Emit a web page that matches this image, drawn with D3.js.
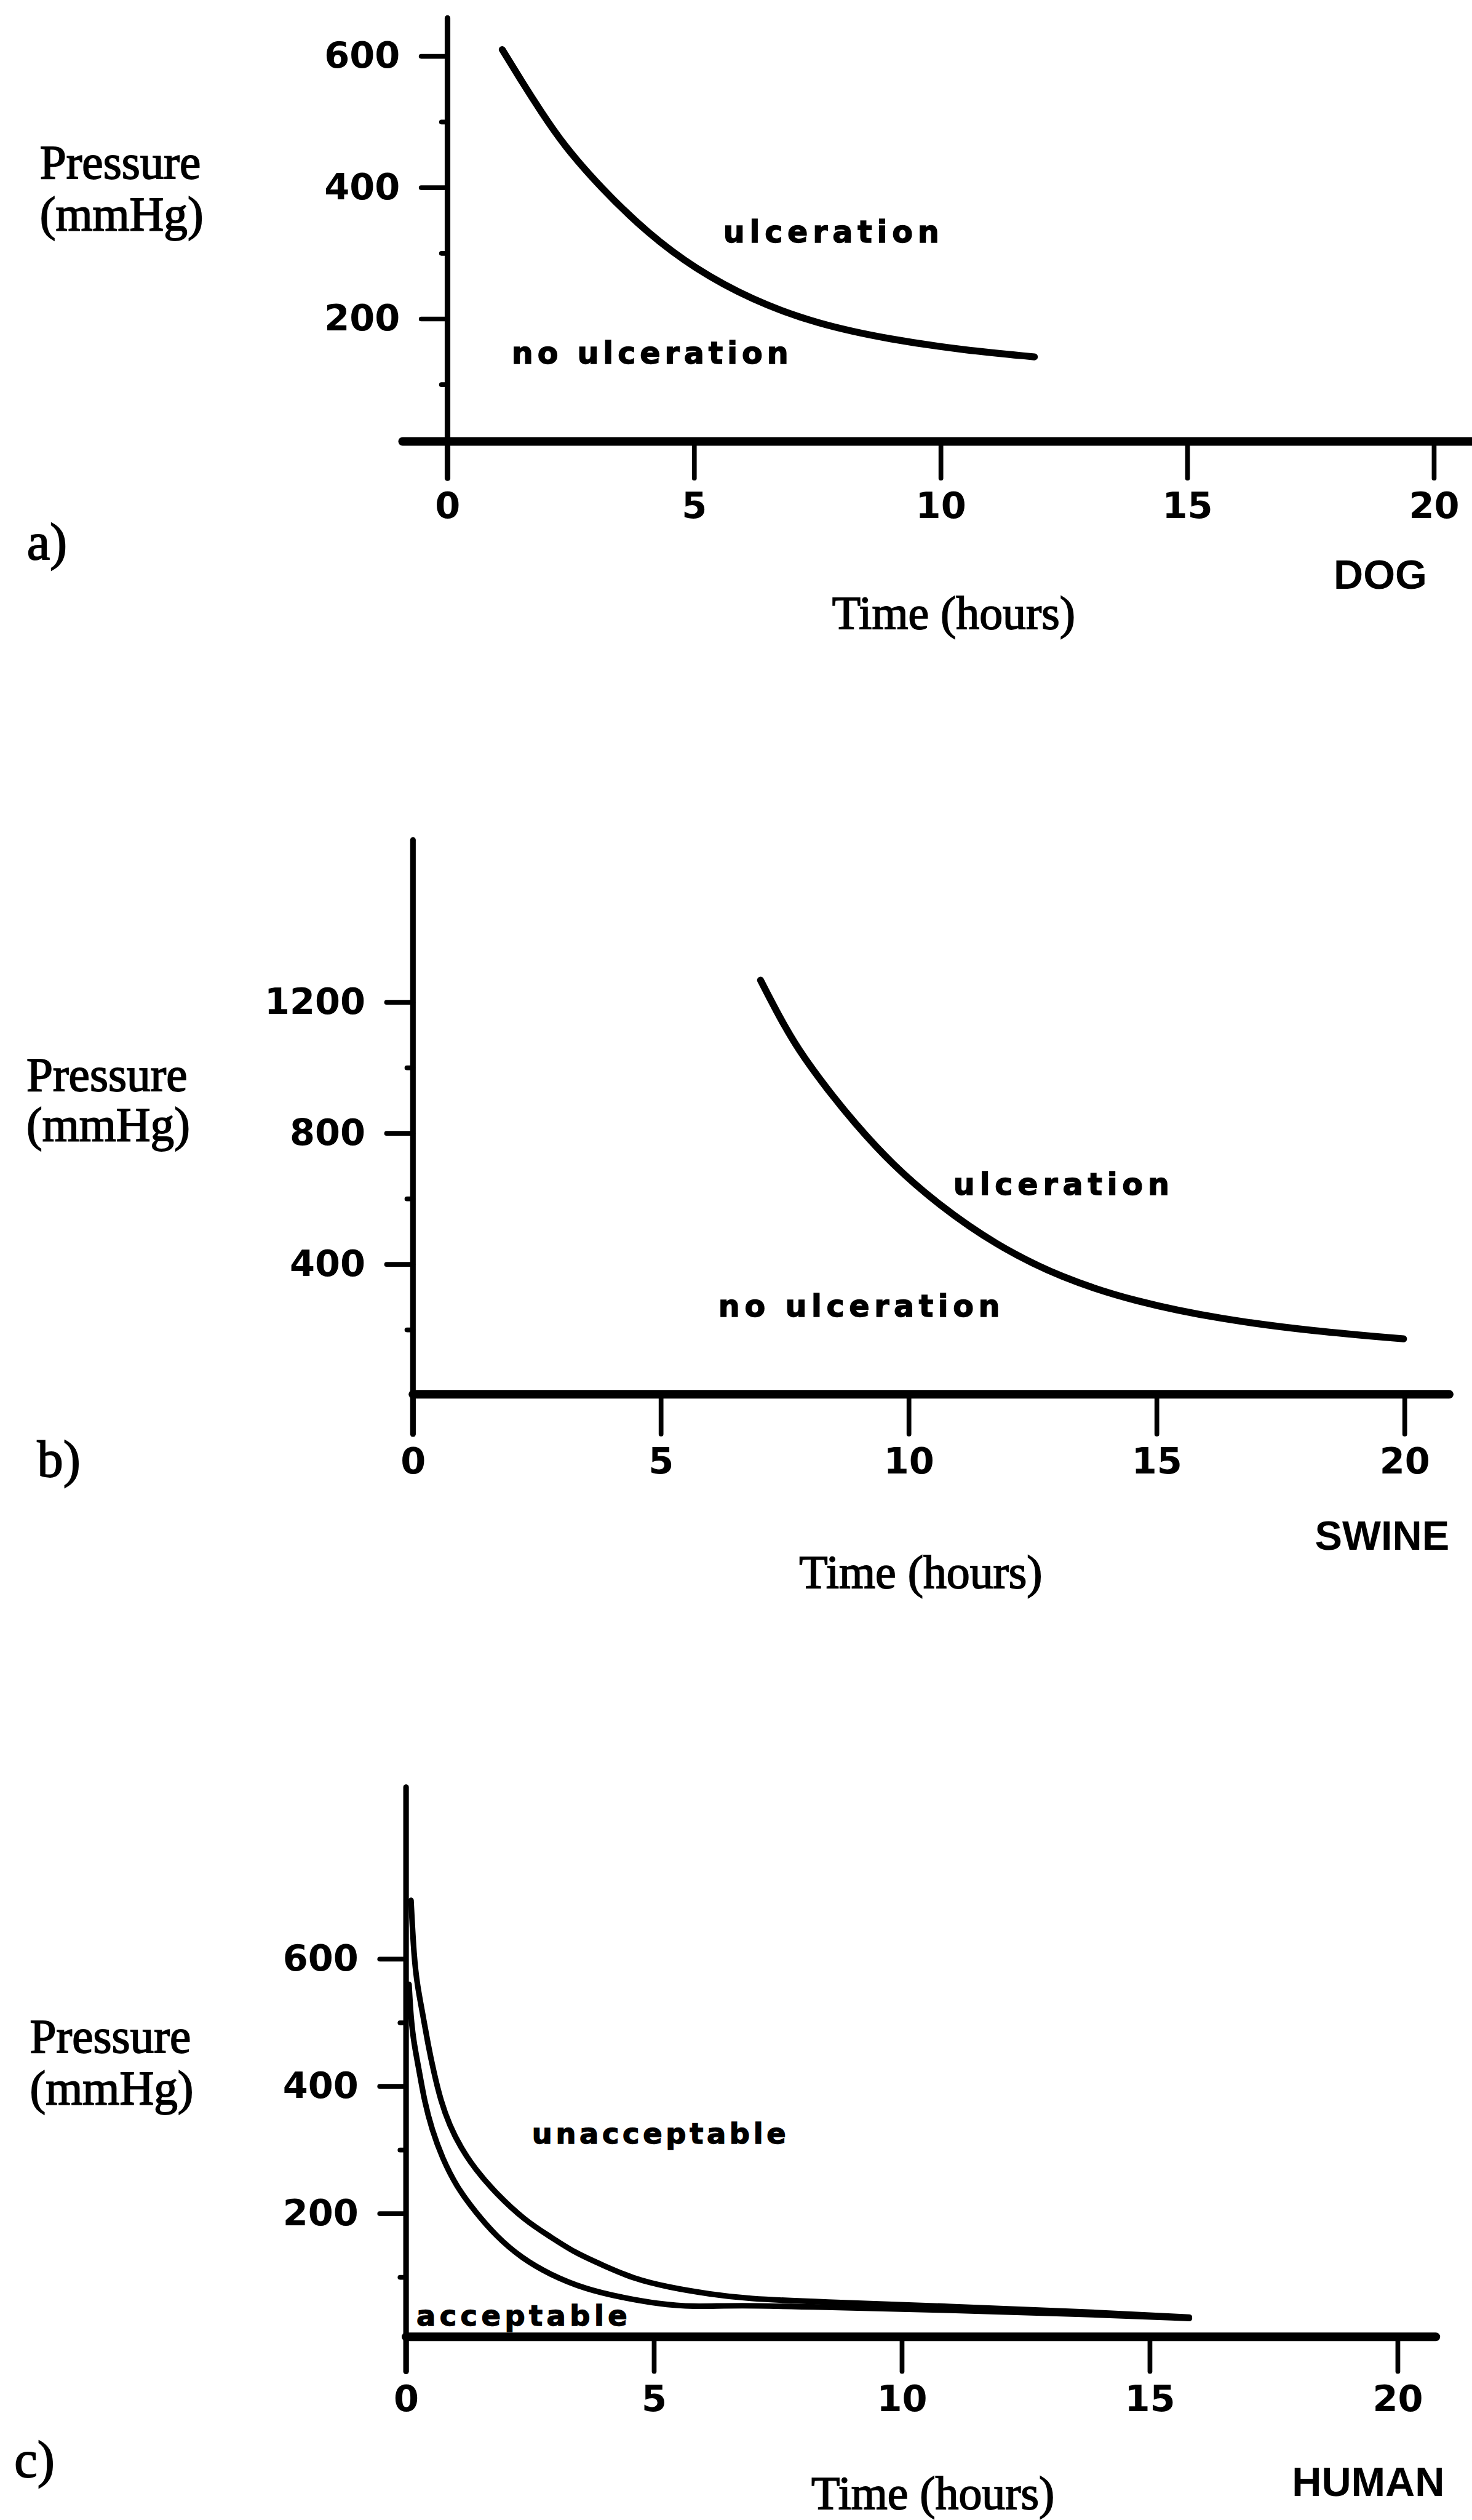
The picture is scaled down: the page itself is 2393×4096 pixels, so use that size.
<!DOCTYPE html>
<html>
<head>
<meta charset="utf-8">
<script src="https://cdn.jsdelivr.net/npm/d3@7"></script>
<style>
    body { margin: 0; background: #fff; }
    .serif { font-family: "Liberation Serif", "Times New Roman", serif; fill: #000; stroke: #000; stroke-width: 2.5; }
    .tick text { font-family: "DejaVu Sans", sans-serif; font-weight: bold; font-size: 84px; fill: #000; }
    .tick line { stroke: #000; stroke-width: 11; stroke-linecap: round; }
    .species { font-family: "Liberation Sans", Arial, sans-serif; font-weight: bold; font-size: 95px; fill: #000; }
    .region { font-family: "DejaVu Sans", sans-serif; font-weight: bold; fill: #000; stroke: #000; stroke-width: 2; }
</style>
</head>
<body>
<div id="chart"></div>
<script>

// ---- data (time in hours, pressure in mmHg) ----
const timeTicks = [0, 5, 10, 15, 20];

const dogTicks = [200, 400, 600];
const dogMinor = [100, 300, 500];
const swineTicks = [400, 800, 1200];
const swineMinor = [200, 600, 1000];
const humanTicks = [200, 400, 600];
const humanMinor = [100, 300, 500];

const dogCurve = [
    [1.11, 610], [1.5, 562], [1.9, 515], [2.35, 465], [3.1, 400], [4.06, 330],
    [5.02, 276], [6.16, 229], [7.49, 192], [9.0, 168], [10.5, 152], [11.9, 142]
];

const swineCurve = [
    [7.01, 1267], [7.39, 1155], [7.77, 1055], [8.34, 937], [8.9, 832], [9.66, 705],
    [10.61, 580], [11.74, 460], [13.07, 358], [14.58, 285], [16.29, 232], [18.18, 195], [19.98, 172]
];

const humanUpper = [
    [0.10, 692], [0.16, 602], [0.23, 557], [0.34, 512], [0.44, 467], [0.56, 422], [0.70, 377],
    [0.88, 338], [1.10, 304], [1.39, 270], [1.82, 231], [2.40, 189], [2.90, 164], [3.41, 138],
    [3.99, 118], [4.57, 98], [5.29, 84], [6.15, 73], [6.87, 66], [8.3, 61], [11.0, 54],
    [13.6, 46], [15.8, 37]
];

const humanLower = [
    [0.06, 560], [0.10, 505], [0.16, 467], [0.27, 422], [0.37, 377], [0.52, 332], [0.73, 287],
    [1.02, 242], [1.39, 203], [1.82, 164], [2.33, 130], [2.90, 104], [3.62, 81], [4.35, 68],
    [5.07, 58], [5.79, 53], [6.65, 56], [8.3, 53], [11.0, 48], [13.6, 42], [15.8, 35]
];

const dogLabels = ["ulceration", "no ulceration"];
const swineLabels = ["ulceration", "no ulceration"];
const humanLabels = ["unacceptable", "acceptable"];
const panelTags = ["a)", "b)", "c)"];
const species = ["DOG", "SWINE", "HUMAN"];
const yTitle = ["Pressure", "(mmHg)"];
const xTitle = "Time (hours)";

// ---- drawing, in the reference's own pixel frame ----
const W = 3408, H = 5834;

const svg = d3.select("#chart").append("svg")
    .attr("width", 2393)
    .attr("height", 4096)
    .attr("viewBox", `0 0 ${W} ${H}`);

svg.append("rect").attr("width", W).attr("height", H).attr("fill", "#fff");

// layout of the three panels
const panels = [
    {
        xRange: [1036, 3320], yDomain: [0, 600], yRange: [1042, 130], axisY: 1022,
        yTop: 658, xStart: -0.91, xEnd: 20.77, tickDown: 85,
        major: dogTicks, minor: dogMinor,
        curves: [dogCurve], curveWidth: 16,
        labels: dogLabels,
        labelPos: [[5.59, 316, 500], [1.30, 132, 641]], labelSize: 70,
        pressure: [92, 413, 532], time: [2208, 1455], spec: [3196, 1363], tag: [62, 1295]
    },
    {
        xRange: [956, 3252], yDomain: [0, 1200], yRange: [3230, 2320], axisY: 3228,
        yTop: 1695, xStart: 0, xEnd: 20.9, tickDown: 92,
        major: swineTicks, minor: swineMinor,
        curves: [swineCurve], curveWidth: 16,
        labels: swineLabels,
        labelPos: [[10.9, 611, 500], [6.16, 240, 652]], labelSize: 70,
        pressure: [61, 2525, 2641], time: [2132, 3676], spec: [3200, 3588], tag: [86, 3419]
    },
    {
        xRange: [940, 3236], yDomain: [0, 600], yRange: [5419, 4535], axisY: 5410,
        yTop: 870, xStart: 0, xEnd: 20.77, tickDown: 80,
        major: humanTicks, minor: humanMinor,
        curves: [humanUpper, humanLower], curveWidth: 13,
        labels: humanLabels,
        labelPos: [[2.54, 310, 588], [0.21, 24, 488]], labelSize: 66,
        pressure: [69, 4751, 4871], time: [2160, 5808], spec: [3168, 5778], tag: [33, 5735]
    }
];

panels.forEach((p, i) => {
    let g = svg.append("g").attr("class", "panel");

    let x = d3.scaleLinear().domain([0, 20]).range(p.xRange);
    let y = d3.scaleLinear().domain(p.yDomain).range(p.yRange);

    // x axis ticks and labels
    let gx = g.append("g")
        .attr("transform", `translate(0, ${p.axisY})`)
        .call(d3.axisBottom(x).tickValues(timeTicks).tickSize(p.tickDown).tickPadding(32));
    gx.select(".domain").remove();

    // y axis, major ticks with labels
    let gy = g.append("g")
        .attr("transform", `translate(${x(0)}, 0)`)
        .call(d3.axisLeft(y).tickValues(p.major).tickSize(61).tickPadding(49).tickFormat(d3.format("d")));
    gy.select(".domain").remove();

    // y axis, small unlabelled ticks
    let gm = g.append("g")
        .attr("transform", `translate(${x(0)}, 0)`)
        .call(d3.axisLeft(y).tickValues(p.minor).tickSize(14).tickFormat(""));
    gm.select(".domain").remove();

    // the axis lines themselves
    g.append("line")
        .attr("x1", x(0)).attr("x2", x(0))
        .attr("y1", y(p.yTop)).attr("y2", p.axisY + p.tickDown)
        .attr("stroke", "#000").attr("stroke-width", 13).attr("stroke-linecap", "round");
    g.append("line")
        .attr("x1", x(p.xStart)).attr("x2", x(p.xEnd))
        .attr("y1", p.axisY).attr("y2", p.axisY)
        .attr("stroke", "#000").attr("stroke-width", 20).attr("stroke-linecap", "round");

    // boundary curves
    let line = d3.line()
        .x(d => x(d[0]))
        .y(d => y(d[1]))
        .curve(d3.curveBasis);
    p.curves.forEach(c => {
        g.append("path")
            .datum(c)
            .attr("d", line)
            .attr("fill", "none")
            .attr("stroke", "#000")
            .attr("stroke-width", p.curveWidth)
            .attr("stroke-linecap", "round")
            .attr("stroke-linejoin", "round");
    });

    // region labels
    p.labels.forEach((txt, k) => {
        let pos = p.labelPos[k];
        g.append("text")
            .attr("class", "region")
            .attr("x", x(pos[0]))
            .attr("y", y(pos[1]))
            .attr("font-size", p.labelSize)
            .attr("textLength", pos[2])
            .attr("lengthAdjust", "spacing")
            .text(txt);
    });

    // axis titles
    g.append("text").attr("class", "serif")
        .attr("x", p.pressure[0]).attr("y", p.pressure[1])
        .attr("font-size", 110)
        .text(yTitle[0]);
    g.append("text").attr("class", "serif")
        .attr("x", p.pressure[0]).attr("y", p.pressure[2])
        .attr("font-size", 110)
        .text(yTitle[1]);
    g.append("text").attr("class", "serif")
        .attr("x", p.time[0]).attr("y", p.time[1])
        .attr("text-anchor", "middle")
        .attr("font-size", 108)
        .text(xTitle);

    // species name and panel letter
    g.append("text").attr("class", "species")
        .attr("x", p.spec[0]).attr("y", p.spec[1])
        .attr("text-anchor", "middle")
        .text(species[i]);
    g.append("text").attr("class", "serif")
        .attr("x", p.tag[0]).attr("y", p.tag[1])
        .attr("font-size", 120)
        .text(panelTags[i]);
});

</script>
</body>
</html>
